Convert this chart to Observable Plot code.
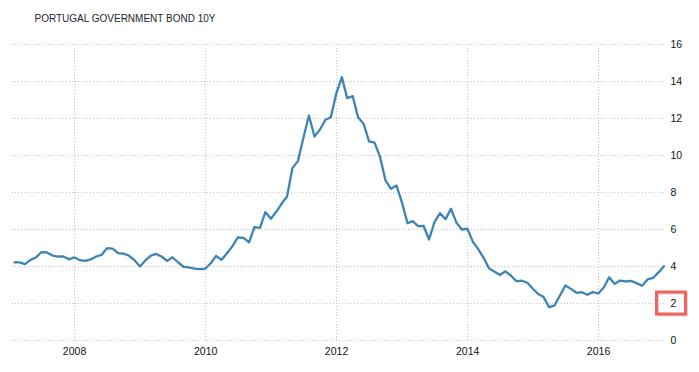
<!DOCTYPE html>
<html>
<head>
<meta charset="utf-8">
<script src="https://cdn.jsdelivr.net/npm/d3@7"></script>
<script src="https://cdn.jsdelivr.net/npm/@observablehq/plot@0.6"></script>
<style>
  html, body { margin: 0; padding: 0; background: #fff; }
</style>
</head>
<body>
<div id="chart"></div>
<script>
// ---- data (monthly, month-end readings) ----
const title = "PORTUGAL GOVERNMENT BOND 10Y";
const years = [2007, 2008, 2009, 2010, 2011, 2012, 2013, 2014, 2015, 2016];
const y2007 = [4.22, 4.22, 4.13, 4.36, 4.49, 4.77, 4.76, 4.59, 4.54, 4.54, 4.39, 4.49];
const y2008 = [4.34, 4.30, 4.38, 4.54, 4.63, 4.99, 4.97, 4.72, 4.70, 4.58, 4.34, 4.00];
const y2009 = [4.34, 4.58, 4.68, 4.54, 4.30, 4.50, 4.23, 3.98, 3.95, 3.89, 3.86, 3.89];
const y2010 = [4.19, 4.57, 4.36, 4.72, 5.10, 5.58, 5.55, 5.31, 6.13, 6.09, 6.94, 6.58];
const y2011 = [6.97, 7.39, 7.78, 9.32, 9.71, 10.95, 12.16, 11.03, 11.39, 11.93, 12.07, 13.37];
const y2012 = [14.23, 13.10, 13.21, 12.07, 11.71, 10.77, 10.70, 9.91, 8.65, 8.20, 8.38, 7.45];
const y2013 = [6.34, 6.45, 6.18, 6.20, 5.46, 6.40, 6.88, 6.56, 7.12, 6.36, 6.00, 6.04];
const y2014 = [5.32, 4.95, 4.47, 3.90, 3.72, 3.54, 3.74, 3.50, 3.21, 3.23, 3.12, 2.80];
const y2015 = [2.50, 2.36, 1.80, 1.89, 2.43, 2.97, 2.79, 2.58, 2.61, 2.47, 2.62, 2.54];
const y2016 = [2.88, 3.42, 3.06, 3.24, 3.19, 3.22, 3.10, 2.96, 3.30, 3.38, 3.68, 4.01];
const yTicks = [0, 2, 4, 6, 8, 10, 12, 14, 16];
const xTickYears = [2008, 2010, 2012, 2014, 2016];
const highlightedTick = 2;

// ---- build table ----
const series = [y2007, y2008, y2009, y2010, y2011, y2012, y2013, y2014, y2015, y2016];
const data = [];
years.forEach((yr, i) => {
  series[i].forEach((v, m) => {
    data.push({ date: new Date(Date.UTC(yr, m + 1, 0)), value: v });
  });
});
const xTickDates = xTickYears.map(y => new Date(Date.UTC(y, 0, 1)));

const gridStroke = "#c4c4c4";
const gridDash = "1,2";

const boxMark = (index, scales, values, dims) => {
  const yc = scales.y(highlightedTick);
  const x0 = dims.width - dims.marginRight - 9.5;
  const g = d3.create("svg:g");
  g.append("rect")
    .attr("x", x0 + 1.5).attr("y", yc - 9.5)
    .attr("width", 29).attr("height", 22)
    .attr("fill", "none").attr("stroke", "#d8d8d8").attr("stroke-width", 2);
  g.append("rect")
    .attr("x", x0).attr("y", yc - 11)
    .attr("width", 29).attr("height", 22)
    .attr("fill", "none").attr("stroke", "#f0625a").attr("stroke-width", 3);
  return g.node();
};

const plot = Plot.plot({
  width: 699,
  height: 372,
  marginLeft: 12,
  marginRight: 33,
  marginTop: 44,
  marginBottom: 32,
  style: {
    fontFamily: "'Liberation Sans', Arial, sans-serif",
    fontSize: "10.5px",
    color: "#111",
    background: "#fff",
    overflow: "visible"
  },
  x: {
    type: "utc",
    domain: [new Date(Date.UTC(2007, 0, 20)), new Date(Date.UTC(2017, 0, 14))]
  },
  y: { domain: [0, 16] },
  marks: [
    Plot.ruleY(yTicks, { stroke: gridStroke, strokeDasharray: gridDash, strokeWidth: 1 }),
    Plot.ruleX(xTickDates, { y1: 0, y2: 16, insetBottom: -4, stroke: gridStroke, strokeDasharray: gridDash, strokeWidth: 1 }),
    Plot.line(data, { x: "date", y: "value", stroke: "#3d84b6", strokeWidth: 2.3, strokeLinejoin: "round" }),
    Plot.axisY(yTicks, { anchor: "right", tickSize: 0, tickPadding: 4, textAnchor: "start", fill: "#111", label: null }),
    Plot.axisX(xTickDates, { tickSize: 0, tickPadding: 7, tickFormat: d3.utcFormat("%Y"), fill: "#111", label: null }),
    boxMark,
    Plot.text([title], {
      frameAnchor: "top-left", dx: 22, dy: -23, lineAnchor: "bottom",
      textAnchor: "start", fontSize: 10, fill: "#1e1e30"
    })
  ]
});

document.getElementById("chart").appendChild(plot);
</script>
</body>
</html>
